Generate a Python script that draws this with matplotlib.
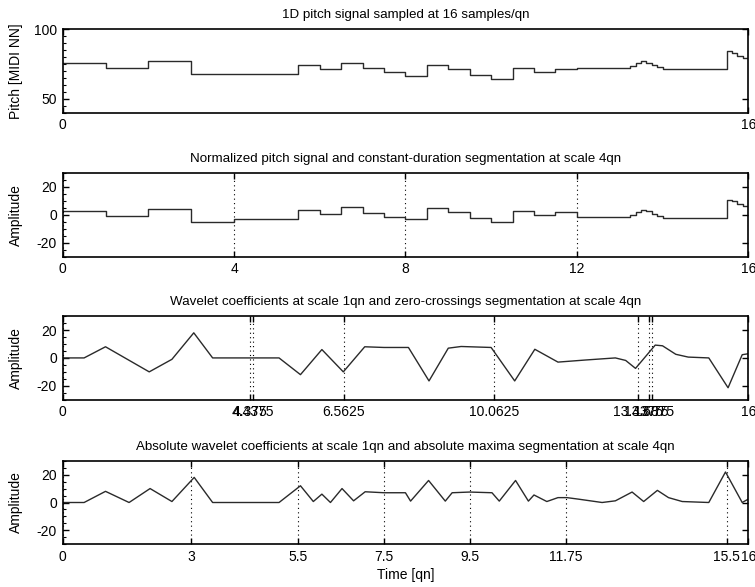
import numpy as np
import matplotlib
matplotlib.use("Agg")
import matplotlib.pyplot as plt
from matplotlib.ticker import MultipleLocator

plt.rcParams['font.family'] = ['Liberation Sans', 'DejaVu Sans']
plt.rcParams['axes.unicode_minus'] = False

# --- data ---
# note onsets (qn) and pitch (MIDI NN), 16 samples/qn
note_onsets = [0, 1, 2, 3, 4, 5.5, 6, 6.5, 7, 7.5, 8, 8.5, 9, 9.5, 10, 10.5, 11, 11.5,
               12, 13.25, 13.375, 13.5, 13.625, 13.75, 13.875, 14.0, 15.5, 15.625, 15.75, 15.875]
pitch = [76, 72, 77, 68, 68, 74, 71, 76, 72, 69, 66, 74, 71, 67, 64, 72, 69, 71,
         72, 73.5, 75.5, 77, 76, 74, 72.5, 71, 84, 83, 81, 79]
norm_pitch = [2.75, -1.25, 3.75, -5.25, -2.75, 3.25, 0.25, 5.25, 1.25, -1.75, -3.25, 4.75, 1.75, -2.25,
              -5.25, 2.75, -0.25, 1.75, -1.5, 0, 2, 3.5, 2.5, 0.5, -1, -2.5, 10.8, 9.8, 8, 6]

# wavelet coefficients at scale 1qn (breakpoints)
wav_t = [0, 0.5, 1.0, 2.02, 2.55, 3.06, 3.5, 5.05, 5.55, 6.05, 6.55, 7.05, 7.5, 8.07, 8.55,
         9.0, 9.3, 10.0, 10.55, 11.02, 11.56, 12.2, 12.9, 13.14, 13.37, 13.83, 14.0, 14.31,
         14.6, 15.08, 15.53, 15.86, 16]
wav_v = [0, 0, 8, -10, -1, 18, 0, 0, -12, 6, -10, 8, 7.5, 7.5, -16.5,
         7, 8.2, 7.5, -16.5, 6.2, -3, -1.5, 0, -1.8, -7.5, 9.2, 8.7, 2.6,
         0.6, 0, -21.4, 2.3, 3]

# absolute wavelet coefficients (breakpoints)
abs_t = [0, 0.5, 1.0, 1.55, 2.04, 2.55, 3.07, 3.5, 5.05, 5.55, 5.85, 6.05, 6.25, 6.52, 6.79,
         7.06, 7.5, 8.0, 8.12, 8.54, 8.93, 9.09, 9.5, 10.02, 10.19, 10.57, 10.87, 11.0,
         11.3, 11.56, 11.77, 12.04, 12.59, 12.9, 13.29, 13.56, 13.88, 14.14, 14.46, 15.08,
         15.47, 15.86, 16]
abs_v = [0, 0, 8, 0, 10, 0.7, 18, 0, 0, 12, 0.7, 6, 0, 10, 1.2,
         7.7, 7, 7, 1, 15.8, 1, 7, 7.5, 7, 1, 15.8, 1, 5.4,
         0.7, 3.5, 3.5, 2.4, 0, 1.2, 7.5, 0.7, 8.7, 3.5, 0.7, 0,
         21.9, 0, 2.4]

ticks_const = [0, 4, 8, 12, 16]
labels_const = ['0', '4', '8', '12', '16']
ticks_zero = [0, 4.375, 4.4375, 6.5625, 10.0625, 13.4375, 13.6875, 13.75, 16]
labels_zero = ['0', '4.375', '4.4375', '6.5625', '10.0625', '13.4375', '13.6875', '13.75', '16']
ticks_max = [0, 3, 5.5, 7.5, 9.5, 11.75, 15.5, 16]
labels_max = ['0', '3', '5.5', '7.5', '9.5', '11.75', '15.5', '16']

titles = ['1D pitch signal sampled at 16 samples/qn',
          'Normalized pitch signal and constant-duration segmentation at scale 4qn',
          'Wavelet coefficients at scale 1qn and zero-crossings segmentation at scale 4qn',
          'Absolute wavelet coefficients at scale 1qn and absolute maxima segmentation at scale 4qn']

LINE_C = '#2a2a2a'
FS = 9.6

fig = plt.figure(figsize=(7.55, 5.87), dpi=100)
left, width, height = 0.083, 0.908, 0.1425
bottoms = [0.808, 0.563, 0.319, 0.0727]
axes = [fig.add_axes([left, b, width, height]) for b in bottoms]


def style_axis(ax, ticks, labels, grid):
    ax.set_xlim(0, 16)
    ax.set_xticks(ticks)
    ax.set_xticklabels(labels)
    ax.tick_params(direction='in', top=True, right=True, length=4, width=1,
                   labelsize=10, pad=4)
    ax.yaxis.set_minor_locator(MultipleLocator(5))
    ax.tick_params(which='minor', direction='in', length=2, width=0.8, right=False)
    for s in ax.spines.values():
        s.set_linewidth(1.2)
    if grid:
        ax.xaxis.grid(True, color='black', linestyle=(0, (1, 3)), linewidth=0.8)


# panel 1
ax = axes[0]
ax.step(note_onsets + [16], pitch + [pitch[-1]], where='post', color=LINE_C, lw=1.0)
ax.set_ylim(40, 100)
ax.set_yticks([50, 100])
style_axis(ax, [0, 16], ['0', '16'], grid=False)
ax.set_ylabel('Pitch [MIDI NN]', fontsize=10)

# panel 2
ax = axes[1]
ax.step(note_onsets + [16], norm_pitch + [norm_pitch[-1]], where='post', color=LINE_C, lw=1.0)
style_axis(ax, ticks_const, labels_const, grid=True)

# panel 3
ax = axes[2]
ax.plot(wav_t, wav_v, color=LINE_C, lw=1.0)
style_axis(ax, ticks_zero, labels_zero, grid=True)

# panel 4
ax = axes[3]
ax.plot(abs_t, abs_v, color=LINE_C, lw=1.0)
style_axis(ax, ticks_max, labels_max, grid=True)
ax.set_xlabel('Time [qn]', fontsize=10, labelpad=3)

for ax in axes[1:]:
    ax.set_ylim(-30, 30)
    ax.set_yticks([-20, 0, 20])
    ax.set_ylabel('Amplitude', fontsize=10)

for ax, t in zip(axes, titles):
    ax.set_title(t, fontsize=FS, pad=8)
    ax.yaxis.set_label_coords(-0.058, 0.5)

fig.savefig('out.png', dpi=100)
